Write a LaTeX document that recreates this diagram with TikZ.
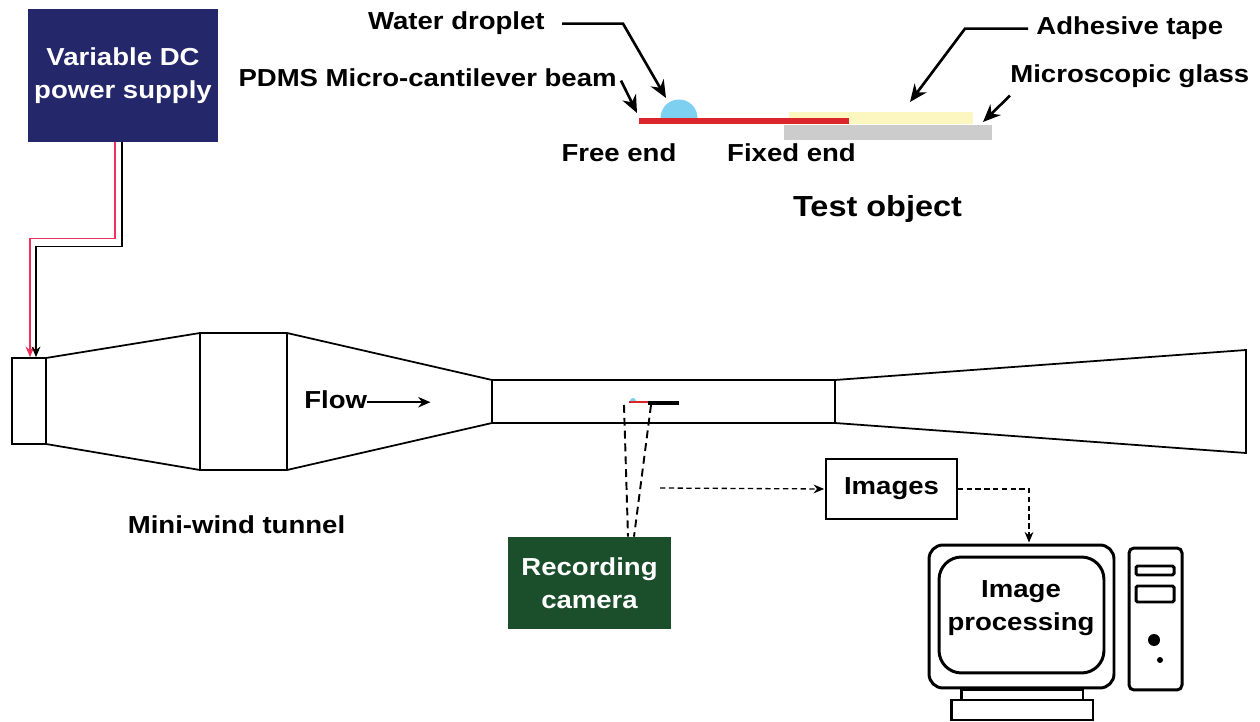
\documentclass[tikz,border=0pt]{standalone}
\usepackage{fontspec}
\setmainfont{Liberation Sans}[FakeStretch=1.12]
\usetikzlibrary{arrows.meta}

\definecolor{psnavy}{RGB}{36,40,106}
\definecolor{camgreen}{RGB}{27,78,42}
\definecolor{beamred}{RGB}{218,37,44}
\definecolor{wirered}{RGB}{240,50,90}
\definecolor{dropblue}{RGB}{125,208,240}
\definecolor{tapeyellow}{RGB}{252,247,192}
\definecolor{glassgrey}{RGB}{204,204,204}

\newcommand\lblfont{\fontsize{14}{18.7}\selectfont\bfseries}
\newcommand\bigfont{\fontsize{16.5}{20}\selectfont\bfseries}

\begin{document}
\begin{tikzpicture}[x=0.02cm,y=-0.02cm,
  lbl/.style={font=\lblfont,inner sep=0pt},
  solidbox/.style={font=\lblfont,text=white,align=center,inner sep=0pt},
  tunnelline/.style={line width=1pt,line join=miter},
  callout/.style={line width=1.5pt,-{Stealth[length=10pt,width=8.5pt]}},
  wirepos/.style={wirered,line width=0.9pt,-{Stealth[length=6pt,width=5pt]}},
  wireneg/.style={black,line width=0.9pt,-{Stealth[length=6pt,width=5pt]}},
  viewline/.style={line width=1.1pt,dash pattern=on 4.5pt off 2.8pt},
  dataflow/.style={line width=0.75pt,dash pattern=on 3pt off 2pt,-{Stealth[length=6pt,width=5pt]}},
  pcline/.style={draw,line width=1.7pt,inner sep=0pt}
]
\useasboundingbox (0,0) rectangle (1260,722);

% ---------- power supply and wiring ----------
\node[solidbox,fill=psnavy,minimum width=3.8cm,minimum height=2.66cm] (ps) at (123,75.5)
  {Variable DC\\power supply};
\node[draw,line width=1pt,minimum width=0.68cm,minimum height=1.72cm,inner sep=0pt] (inlet) at (29,401) {};
\draw[wirepos] ([shift={(-8,0)}]ps.south) -- ++(0,96) -| ([shift={(1,0)}]inlet.north);
\draw[wireneg] ([shift={(-1,0)}]ps.south) -- ++(0,104) -| ([shift={(7,0)}]inlet.north);

% ---------- mini wind tunnel ----------
\draw[tunnelline] (46,358) -- (200,333) -- (287,333) -- (492,380) -- (835,380)
  -- (1246,350) -- (1246,453) -- (835,423) -- (492,423) -- (287,470) -- (200,470) -- (46,444);
\draw[tunnelline] (200,333) -- (200,470);
\draw[tunnelline] (287,333) -- (287,470);
\draw[tunnelline] (492,380) -- (492,423);
\draw[tunnelline] (835,380) -- (835,423);

\node[lbl,anchor=base west] (flow) at (304,409) {Flow};
\draw[line width=1pt,-{Stealth[length=7pt,width=6pt]}] ([shift={(0,2)}]flow.east) -- ++(63,0) coordinate (flowtip);

\node[lbl,anchor=base] (tunnel) at (236.5,533) {Mini-wind tunnel};

% specimen inside the test section
\draw[beamred,line width=1.2pt] (629,402) -- (648,402);
\draw[black,line width=2.3pt] (648,403) -- (679,403);
\fill[dropblue] (630,401) arc[start angle=180,end angle=0,radius=0.06cm] -- cycle;

% ---------- camera ----------
\node[solidbox,fill=camgreen,minimum width=3.26cm,minimum height=1.84cm] (cam) at (589.5,583)
  {Recording\\camera};
\coordinate (specL) at (624,405);
\coordinate (specR) at (651,405);
\draw[viewline] (specL) -- ([shift={(38.5,0)}]cam.north);
\draw[viewline] (specR) -- ([shift={(44.5,0)}]cam.north);

% ---------- images and processing ----------
\node[draw,line width=1pt,font=\lblfont,minimum width=2.62cm,minimum height=1.2cm,inner sep=0pt] (img) at (891.5,489) {Images};
\coordinate (camout) at (660,488);
\draw[dataflow] (camout) -- ([shift={(-1,0)}]img.west);

\node[pcline,rounded corners=0.28cm,minimum width=3.7cm,minimum height=2.86cm] (mon) at (1021.5,616.5) {};
\node[pcline,rounded corners=0.45cm,minimum width=3.3cm,minimum height=2.32cm] (screen) at (1021.5,615) {};
\node[font=\lblfont,align=center,inner sep=0pt] (proc) at (1021,608) {Image\\processing};
\node[pcline,minimum width=2.44cm,minimum height=0.2cm] (neck) at (1022,695) {};
\node[pcline,minimum width=2.84cm,minimum height=0.4cm] (base) at (1022,710) {};

\node[pcline,rounded corners=0.1cm,minimum width=1.06cm,minimum height=2.84cm] (tower) at (1155.5,619) {};
\node[pcline,rounded corners=0.03cm,minimum width=0.76cm,minimum height=0.18cm] (bay1) at (1155,570.5) {};
\node[pcline,rounded corners=0.03cm,minimum width=0.76cm,minimum height=0.32cm] (bay2) at (1155,594) {};
\fill (1154,640) circle[radius=0.12cm];
\fill (1160,660) circle[radius=0.06cm];

\draw[dataflow] (img.east) -| ([shift={(7.5,-1)}]mon.north);

% ---------- test object ----------
\fill[glassgrey] (784,125) rectangle (992,140);
\fill[tapeyellow] (789,112) rectangle (973,124);
\fill[beamred] (639,118) rectangle (849,124);
\fill[dropblue] (660.5,118) arc[start angle=180,end angle=0,radius=0.37cm] -- cycle;

\node[lbl,anchor=base east] (wdrop) at (545,30) {Water droplet};
\node[lbl,anchor=base east] (pdms) at (617,87) {PDMS Micro-cantilever beam};
\node[lbl,anchor=base west] (tape) at (1036,35) {Adhesive tape};
\node[lbl,anchor=base west] (glass) at (1010,83) {Microscopic glass};
\node[lbl,anchor=base] (free) at (619,162) {Free end};
\node[lbl,anchor=base] (fixed) at (791.5,162) {Fixed end};
\node[font=\bigfont,inner sep=0pt,anchor=base] (testobj) at (877.5,217) {Test object};

\coordinate (droptip) at (666,98);
\coordinate (beamtip) at (637,113);
\coordinate (tapetip) at (910,102);
\coordinate (glasstip) at (983,122);
\draw[callout] ([shift={(17,0)}]wdrop.east) -- ++(61,0) -- (droptip);
\draw[callout] ([shift={(4,-7)}]pdms.south east) -- (beamtip);
\draw[callout] ([shift={(-8,0)}]tape.west) -- ++(-63,0) -- (tapetip);
\draw[callout] ([shift={(0,7)}]glass.south west) -- (glasstip);
\end{tikzpicture}
\end{document}
